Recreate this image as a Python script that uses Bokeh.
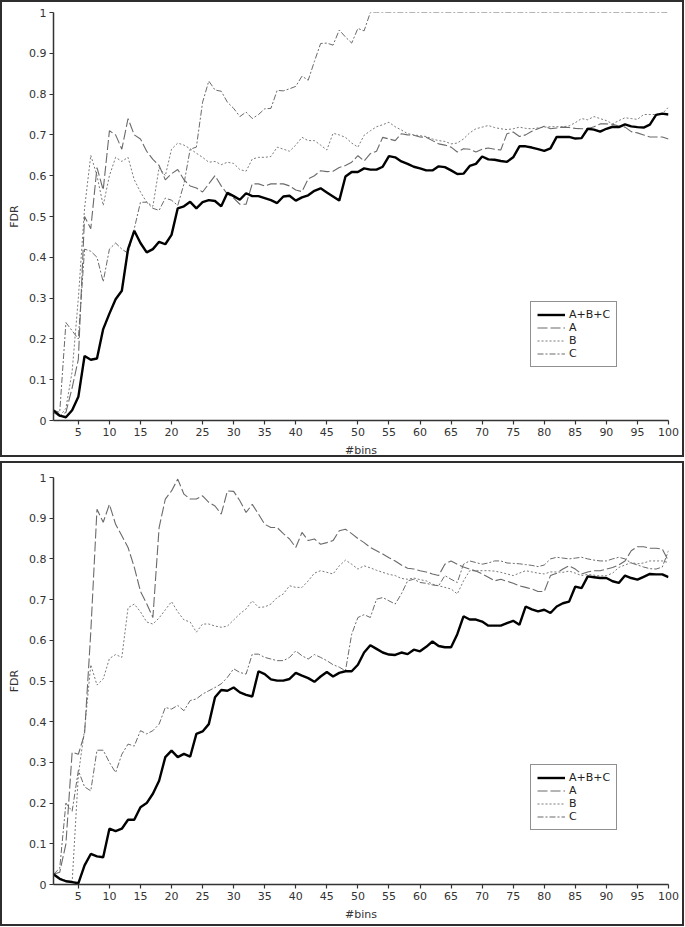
from bokeh.plotting import figure
from bokeh.models import (ColumnDataSource, Legend, LegendItem, FixedTicker,
                          CustomJSTickFormatter, Range1d)
from bokeh.layouts import column
from bokeh.embed import file_html
from bokeh.resources import INLINE

bins = list(range(1, 101))
x_ticks = list(range(5, 101, 5))
y_ticks = [0, 0.1, 0.2, 0.3, 0.4, 0.5, 0.6, 0.7, 0.8, 0.9, 1.0]
series_names = ["A+B+C", "A", "B", "C"]

# ---------------- top panel ----------------
top_abc = [0.025, 0.012, 0.008, 0.025, 0.058, 0.158, 0.149, 0.152, 0.224, 0.262,
           0.297, 0.318, 0.42, 0.465, 0.435, 0.412, 0.42, 0.438, 0.432, 0.455,
           0.52, 0.525, 0.536, 0.52, 0.535, 0.54, 0.538, 0.525, 0.558, 0.55,
           0.541, 0.557, 0.55, 0.55, 0.545, 0.54, 0.533, 0.549, 0.551, 0.539,
           0.547, 0.552, 0.563, 0.569, 0.559, 0.549, 0.539, 0.598, 0.609, 0.609,
           0.618, 0.615, 0.615, 0.622, 0.648, 0.645, 0.635, 0.629, 0.622, 0.618,
           0.613, 0.613, 0.623, 0.621, 0.613, 0.604, 0.605, 0.624, 0.629, 0.647,
           0.64, 0.639, 0.636, 0.634, 0.645, 0.672, 0.672, 0.669, 0.665, 0.661,
           0.667, 0.695, 0.695, 0.695, 0.691, 0.692, 0.715, 0.713, 0.708, 0.715,
           0.72, 0.719, 0.726, 0.721, 0.719, 0.718, 0.725, 0.749, 0.752, 0.75]
top_a = [0.02, 0.01, 0.02, 0.08, 0.15, 0.50, 0.47, 0.62, 0.565, 0.71,
         0.70, 0.665, 0.74, 0.70, 0.69, 0.66, 0.64, 0.625, 0.59, 0.605,
         0.615, 0.59, 0.575, 0.57, 0.56, 0.58, 0.60, 0.575, 0.555, 0.545,
         0.53, 0.53, 0.58, 0.58, 0.575, 0.58, 0.58, 0.58, 0.575, 0.565,
         0.561, 0.592, 0.60, 0.612, 0.61, 0.611, 0.62, 0.625, 0.633, 0.649,
         0.636, 0.654, 0.66, 0.694, 0.69, 0.686, 0.703, 0.70, 0.699, 0.695,
         0.694, 0.686, 0.678, 0.675, 0.67, 0.658, 0.666, 0.665, 0.658, 0.665,
         0.668, 0.665, 0.663, 0.703, 0.707, 0.696, 0.70, 0.709, 0.715, 0.721,
         0.715, 0.717, 0.719, 0.718, 0.716, 0.715, 0.715, 0.72, 0.727, 0.727,
         0.726, 0.722, 0.719, 0.708, 0.705, 0.70, 0.695, 0.695, 0.695, 0.69]
top_b = [0.02, 0.01, 0.03, 0.12, 0.30, 0.52, 0.65, 0.60, 0.527, 0.60,
         0.645, 0.635, 0.645, 0.59, 0.56, 0.535, 0.525, 0.62, 0.60, 0.665,
         0.68, 0.675, 0.666, 0.655, 0.645, 0.633, 0.635, 0.627, 0.633, 0.63,
         0.615, 0.611, 0.641, 0.645, 0.645, 0.647, 0.67, 0.665, 0.66, 0.675,
         0.694, 0.686, 0.686, 0.675, 0.663, 0.704, 0.70, 0.694, 0.68, 0.67,
         0.699, 0.71, 0.72, 0.725, 0.731, 0.72, 0.712, 0.703, 0.70, 0.698,
         0.696, 0.69, 0.686, 0.684, 0.678, 0.68, 0.69, 0.705, 0.715, 0.719,
         0.723, 0.718, 0.715, 0.713, 0.715, 0.719, 0.716, 0.715, 0.717, 0.719,
         0.72, 0.72, 0.72, 0.722, 0.73, 0.74, 0.737, 0.745, 0.74, 0.735,
         0.727, 0.735, 0.742, 0.74, 0.738, 0.75, 0.75, 0.75, 0.752, 0.768]
top_c = [0.025, 0.02, 0.24, 0.22, 0.20, 0.42, 0.415, 0.40, 0.34, 0.42,
         0.435, 0.42, 0.41, 0.47, 0.535, 0.535, 0.52, 0.515, 0.545, 0.54,
         0.527, 0.58, 0.665, 0.67, 0.78, 0.832, 0.81, 0.807, 0.78, 0.765,
         0.745, 0.756, 0.74, 0.75, 0.764, 0.765, 0.809, 0.808, 0.813, 0.819,
         0.844, 0.834, 0.88, 0.924, 0.925, 0.92, 0.957, 0.94, 0.925, 0.961,
         0.955, 1.0, 1.0, 1.0, 1.0, 1.0, 1.0, 1.0, 1.0, 1.0,
         1.0, 1.0, 1.0, 1.0, 1.0, 1.0, 1.0, 1.0, 1.0, 1.0,
         1.0, 1.0, 1.0, 1.0, 1.0, 1.0, 1.0, 1.0, 1.0, 1.0,
         1.0, 1.0, 1.0, 1.0, 1.0, 1.0, 1.0, 1.0, 1.0, 1.0,
         1.0, 1.0, 1.0, 1.0, 1.0, 1.0, 1.0, 1.0, 1.0, 1.0]

# ---------------- bottom panel ----------------
bot_abc = [0.025, 0.014, 0.008, 0.006, 0.003, 0.047, 0.075, 0.069, 0.067, 0.137,
           0.131, 0.137, 0.159, 0.159, 0.19, 0.2, 0.223, 0.255, 0.313, 0.329,
           0.313, 0.321, 0.314, 0.37, 0.376, 0.394, 0.46, 0.478, 0.476, 0.484,
           0.472, 0.466, 0.462, 0.524, 0.517, 0.504, 0.501, 0.501, 0.505, 0.52,
           0.513, 0.507, 0.498, 0.511, 0.522, 0.511, 0.52, 0.524, 0.524, 0.54,
           0.57, 0.588, 0.579, 0.57, 0.565, 0.564, 0.57, 0.566, 0.577, 0.573,
           0.584, 0.597, 0.586, 0.583, 0.583, 0.615, 0.659, 0.651, 0.651, 0.646,
           0.636, 0.636, 0.636, 0.642, 0.648, 0.638, 0.683, 0.676, 0.671, 0.675,
           0.667, 0.683, 0.691, 0.695, 0.732, 0.728, 0.757, 0.755, 0.753, 0.753,
           0.745, 0.741, 0.759, 0.753, 0.749, 0.756, 0.763, 0.762, 0.762, 0.755]
bot_a = [0.025, 0.03, 0.1, 0.325, 0.32, 0.37, 0.62, 0.922, 0.89, 0.934,
         0.885, 0.857, 0.828, 0.78, 0.72, 0.69, 0.656, 0.877, 0.947, 0.967,
         0.996, 0.959, 0.947, 0.947, 0.955, 0.939, 0.93, 0.91, 0.967, 0.966,
         0.943, 0.914, 0.934, 0.91, 0.885, 0.877, 0.877, 0.862, 0.849, 0.828,
         0.865, 0.845, 0.849, 0.836, 0.84, 0.845, 0.869, 0.873, 0.862, 0.85,
         0.84, 0.828, 0.82, 0.812, 0.803, 0.795, 0.785, 0.777, 0.775, 0.771,
         0.768, 0.763, 0.759, 0.787, 0.795, 0.787, 0.78, 0.775, 0.77, 0.763,
         0.755, 0.746, 0.75, 0.745, 0.74, 0.734, 0.73, 0.726, 0.72, 0.72,
         0.759, 0.765, 0.775, 0.783, 0.775, 0.763, 0.768, 0.771, 0.771, 0.775,
         0.779, 0.785, 0.795, 0.82, 0.83, 0.83, 0.826, 0.826, 0.824, 0.795]
bot_b = [0.025, 0.015, 0.01, 0.005, 0.27, 0.38, 0.54, 0.49, 0.505, 0.555,
         0.565, 0.558, 0.68, 0.689, 0.67, 0.645, 0.64, 0.655, 0.675, 0.695,
         0.67, 0.65, 0.645, 0.62, 0.64, 0.64, 0.635, 0.632, 0.635, 0.65,
         0.665, 0.677, 0.697, 0.681, 0.682, 0.689, 0.705, 0.714, 0.734, 0.73,
         0.73, 0.746, 0.765, 0.771, 0.767, 0.763, 0.783, 0.797, 0.787, 0.775,
         0.783, 0.778, 0.772, 0.767, 0.762, 0.759, 0.752, 0.75, 0.753, 0.749,
         0.746, 0.738, 0.734, 0.73, 0.726, 0.714, 0.746, 0.771, 0.771, 0.771,
         0.771, 0.77, 0.767, 0.763, 0.759, 0.765, 0.771, 0.768, 0.765, 0.763,
         0.768, 0.768, 0.767, 0.77, 0.765, 0.759, 0.762, 0.76, 0.758, 0.759,
         0.765, 0.779, 0.785, 0.791, 0.788, 0.79, 0.795, 0.795, 0.795, 0.791]
bot_c = [0.025, 0.04, 0.2, 0.18, 0.28, 0.24, 0.23, 0.33, 0.33, 0.30,
         0.275, 0.32, 0.345, 0.34, 0.378, 0.37, 0.378, 0.394, 0.435, 0.431,
         0.44, 0.427, 0.452, 0.456, 0.468, 0.476, 0.484, 0.493, 0.509, 0.53,
         0.521, 0.517, 0.566, 0.566, 0.558, 0.554, 0.55, 0.55, 0.558, 0.574,
         0.562, 0.554, 0.565, 0.558, 0.55, 0.54, 0.534, 0.525, 0.615, 0.656,
         0.663, 0.656, 0.701, 0.705, 0.697, 0.689, 0.714, 0.746, 0.75, 0.742,
         0.74, 0.736, 0.734, 0.759, 0.75, 0.742, 0.787, 0.795, 0.791, 0.787,
         0.79, 0.795, 0.795, 0.79, 0.789, 0.788, 0.786, 0.784, 0.781, 0.785,
         0.8, 0.804, 0.802, 0.8, 0.802, 0.804, 0.8, 0.797, 0.795, 0.795,
         0.8, 0.804, 0.8, 0.79, 0.785, 0.78, 0.776, 0.775, 0.78, 0.82]

FONT = "DejaVu Sans"
STYLES = {
    "abc": dict(line_color="#000000", line_width=2.4, line_dash="solid"),
    "a": dict(line_color="#6a6a6a", line_width=1.1, line_dash="10 3"),
    "b": dict(line_color="#7a7a7a", line_width=1.0, line_dash="2 2"),
    "c": dict(line_color="#6a6a6a", line_width=1.0, line_dash="6 2 2 2"),
}


def make_panel(abc, a, b, c, height, top_border, bottom_border, legend_loc):
    src = ColumnDataSource(dict(x=bins, abc=abc, a=a, b=b, c=c))
    p = figure(width=684, height=height, output_backend="svg",
               toolbar_location=None,
               x_range=Range1d(1, 100), y_range=Range1d(0, 1),
               min_border_left=51, min_border_right=18,
               min_border_top=top_border, min_border_bottom=bottom_border)
    p.styles = {"border": "2px solid #2e2e2e"}
    p.outline_line_color = None
    p.xgrid.visible = False
    p.ygrid.visible = False
    p.background_fill_color = "white"
    p.border_fill_color = "white"

    rmap = {}
    for col in ["b", "c", "a", "abc"]:
        rmap[col] = p.line("x", col, source=src, **STYLES[col])
    items = [LegendItem(label=n, renderers=[rmap[k]])
             for n, k in zip(series_names, ["abc", "a", "b", "c"])]
    legend = Legend(items=items, location=legend_loc)
    legend.padding = 6
    legend.spacing = 0
    legend.margin = 0
    legend.glyph_width = 28
    legend.glyph_height = 13
    legend.label_height = 13
    legend.label_standoff = 4
    legend.label_text_font = FONT
    legend.label_text_font_size = "11px"
    legend.label_text_color = "#222222"
    legend.border_line_color = "#222222"
    legend.border_line_width = 1
    legend.background_fill_alpha = 1.0
    p.add_layout(legend)

    for ax in (p.xaxis[0], p.yaxis[0]):
        ax.axis_line_color = "#333333"
        ax.axis_line_width = 1.5
        ax.major_tick_line_color = "#333333"
        ax.major_tick_line_width = 1.2
        ax.major_tick_out = 4
        ax.major_tick_in = 0
        ax.minor_tick_line_color = None
        ax.major_label_text_font = FONT
        ax.major_label_text_font_size = "11px"
        ax.major_label_text_color = "#333333"
        ax.major_label_standoff = 3
        ax.axis_label_text_font = FONT
        ax.axis_label_text_font_size = "11px"
        ax.axis_label_text_font_style = "normal"
        ax.axis_label_text_color = "#333333"
        ax.axis_label_standoff = 5
    p.xaxis.ticker = FixedTicker(ticks=x_ticks)
    p.yaxis.ticker = FixedTicker(ticks=y_ticks)
    p.yaxis.formatter = CustomJSTickFormatter(
        code="return String(Math.round(tick * 10) / 10);")
    p.xaxis.axis_label = "#bins"
    p.yaxis.axis_label = "FDR"
    return p


p1 = make_panel(top_abc, top_a, top_b, top_c, 457, 10, 36, (477, 53))
p2 = make_panel(bot_abc, bot_a, bot_b, bot_c, 465, 14, 44, (477, 54))

page = column(p1, p2, spacing=4)
open("out.html", "w").write(file_html(page, INLINE))
